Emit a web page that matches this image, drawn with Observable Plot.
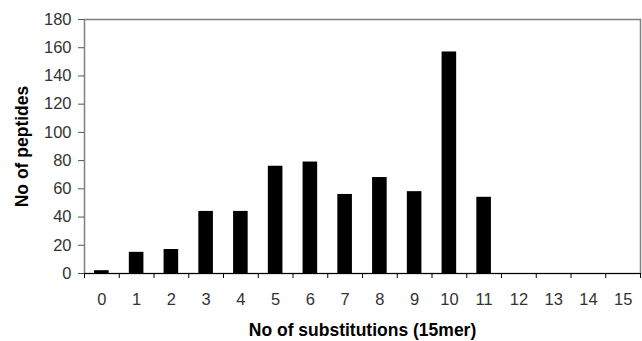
<!DOCTYPE html>
<html>
<head>
<meta charset="utf-8">
<script src="https://cdn.jsdelivr.net/npm/d3@7"></script>
<script src="https://cdn.jsdelivr.net/npm/@observablehq/plot@0.6"></script>
<style>
  html, body { margin: 0; padding: 0; background: #fff; }
  #chart svg { display: block; }
</style>
</head>
<body>
<div id="chart"></div>
<script>
const substitutions = [0, 1, 2, 3, 4, 5, 6, 7, 8, 9, 10, 11, 12, 13, 14, 15];
const peptides = [2, 15, 17, 44, 44, 76, 79, 56, 68, 58, 157, 54, 0, 0, 0, 0];
const yTicks = [0, 20, 40, 60, 80, 100, 120, 140, 160, 180];
const xTitle = "No of substitutions (15mer)";
const yTitle = "No of peptides";

const data = substitutions.map((k, i) => ({k, v: peptides[i]}));
const boundaries = substitutions.map(k => k - 0.5).concat([substitutions[substitutions.length - 1] + 0.5]);
const half = 0.21;

const chart = Plot.plot({
  width: 642,
  height: 341,
  marginLeft: 84,
  marginRight: 2,
  marginTop: 19,
  marginBottom: 68,
  style: {fontFamily: "'Liberation Sans', Arial, sans-serif", fontSize: "16px", background: "#fff"},
  x: {type: "linear", domain: [-0.5, 15.5]},
  y: {domain: [0, 180]},
  marks: [
    Plot.frame({stroke: "#808080", strokeWidth: 1.5}),
    Plot.rectY(data.filter(d => d.v > 0), {x1: d => d.k - half, x2: d => d.k + half, y: "v", fill: "#000"}),
    Plot.ruleY([0], {stroke: "#000", strokeWidth: 1.2}),
    Plot.axisY({ticks: yTicks, tickSize: 6, tickPadding: 7, stroke: "#555", color: "#333", fontSize: 16.5, label: null}),
    Plot.axisX({ticks: boundaries, tickSize: 5, tickFormat: () => "", stroke: "#000", label: null}),
    Plot.axisX({ticks: substitutions, tickSize: 0, tickPadding: 20, tickFormat: d => String(d), color: "#333", fontSize: 16.5, label: null}),
    Plot.text([xTitle], {frameAnchor: "bottom", dy: 62, fontWeight: "bold", fontSize: 17.5, fill: "#000"}),
    Plot.text([yTitle], {frameAnchor: "left", dx: -62, rotate: -90, textAnchor: "middle", fontWeight: "bold", fontSize: 17.5, fill: "#000"})
  ]
});
document.getElementById("chart").appendChild(chart);
</script>
</body>
</html>
